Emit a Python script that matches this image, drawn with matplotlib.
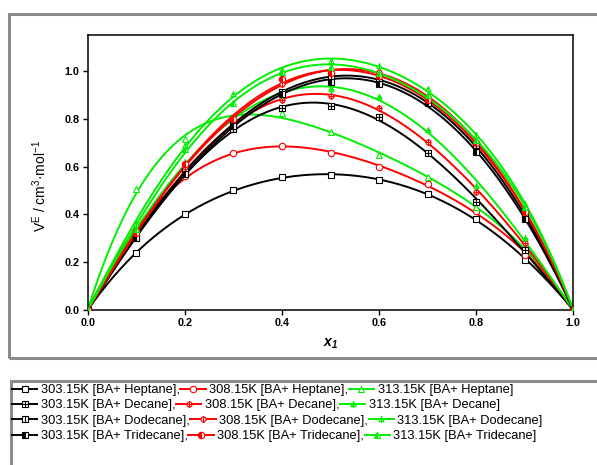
import numpy as np
import matplotlib
matplotlib.use("Agg")
import matplotlib.pyplot as plt
from matplotlib.path import Path
from matplotlib.patches import Rectangle
from matplotlib.lines import Line2D

plt.rcParams['font.family'] = ['Liberation Sans', 'DejaVu Sans']
plt.rcParams['mathtext.default'] = 'regular'

# ---------------- data ----------------
x1 = [0.0, 0.1, 0.2, 0.3, 0.4, 0.5, 0.6, 0.7, 0.8, 0.9, 1.0]

hep_303 = [0, 0.237, 0.400, 0.500, 0.555, 0.563, 0.543, 0.487, 0.380, 0.210, 0]
hep_308 = [0, 0.330, 0.560, 0.655, 0.686, 0.655, 0.598, 0.526, 0.414, 0.230, 0]
hep_313 = [0, 0.505, 0.715, 0.800, 0.825, 0.745, 0.649, 0.557, 0.430, 0.260, 0]

dec_303 = [0, 0.300, 0.570, 0.755, 0.843, 0.852, 0.808, 0.658, 0.452, 0.250, 0]
dec_308 = [0, 0.310, 0.580, 0.780, 0.877, 0.895, 0.843, 0.703, 0.494, 0.280, 0]
dec_313 = [0, 0.330, 0.620, 0.800, 0.900, 0.926, 0.891, 0.752, 0.519, 0.303, 0]

dod_303 = [0, 0.310, 0.580, 0.780, 0.910, 0.980, 0.954, 0.870, 0.690, 0.390, 0]
dod_308 = [0, 0.330, 0.600, 0.800, 0.947, 0.998, 0.996, 0.891, 0.703, 0.420, 0]
dod_313 = [0, 0.360, 0.690, 0.905, 1.003, 1.040, 1.020, 0.926, 0.731, 0.442, 0]

tri_303 = [0, 0.300, 0.570, 0.770, 0.905, 0.955, 0.947, 0.864, 0.661, 0.380, 0]
tri_308 = [0, 0.320, 0.610, 0.800, 0.968, 0.990, 0.980, 0.880, 0.700, 0.410, 0]
tri_313 = [0, 0.340, 0.675, 0.864, 0.996, 1.015, 0.989, 0.898, 0.710, 0.430, 0]

temps = ['303.15K', '308.15K', '313.15K']
solvents = ['Heptane', 'Decane', 'Dodecane', 'Tridecane']

series = {
    ('Heptane', 0): hep_303, ('Heptane', 1): hep_308, ('Heptane', 2): hep_313,
    ('Decane', 0): dec_303, ('Decane', 1): dec_308, ('Decane', 2): dec_313,
    ('Dodecane', 0): dod_303, ('Dodecane', 1): dod_308, ('Dodecane', 2): dod_313,
    ('Tridecane', 0): tri_303, ('Tridecane', 1): tri_308, ('Tridecane', 2): tri_313,
}

colors = ['black', '#ff0000', '#00ee00']

# ---------------- markers ----------------
MO, LT, CL = Path.MOVETO, Path.LINETO, Path.CLOSEPOLY
def shape_verts(kind):
    if kind == 0:
        return [(-1, -1), (1, -1), (1, 1), (-1, 1), (-1, -1)]
    if kind == 1:
        t = np.linspace(0, 2 * np.pi, 33)
        return list(zip(np.cos(t), np.sin(t)))
    return [(-1, -0.85), (1, -0.85), (0, 1.0), (-1, -0.85)]

def make_marker(kind, deco):
    v = shape_verts(kind)
    verts = list(v)
    codes = [MO] + [LT] * (len(v) - 2) + [CL]
    if deco in ('plus', 'bar'):
        verts += [(0, -1.25), (0, 1.25)]
        codes += [MO, LT]
    if deco == 'plus':
        yh = 0.0 if kind != 2 else -0.15
        verts += [(-1, yh), (1, yh)]
        codes += [MO, LT]
    return Path(verts, codes)

std_markers = ['s', 'o', '^']

def marker_style(solvent, ti):
    c = colors[ti]
    if solvent == 'Heptane':
        return dict(marker=std_markers[ti], mfc='white', mec=c)
    if solvent == 'Decane':
        return dict(marker=make_marker(ti, 'plus'), mfc='white', mec=c)
    if solvent == 'Dodecane':
        return dict(marker=make_marker(ti, 'bar'), mfc='white', mec=c)
    return dict(marker=std_markers[ti], mfc=c, mec=c, fillstyle='left',
                markerfacecoloralt='white')

# ---------------- figure ----------------
W, H = 597, 465
fig = plt.figure(figsize=(W / 100, H / 100), dpi=100)
ax = fig.add_axes([87.7 / W, 1 - 310 / H, (573.3 - 87.7) / W, (310 - 35) / H])

xs = np.array(x1)
xf = np.linspace(0, 1, 300)
for solvent in solvents:
    for ti in range(3):
        ys = np.array(series[(solvent, ti)])
        # Redlich-Kister fit
        z = 2 * xs - 1
        A = np.column_stack([xs * (1 - xs) * z ** k for k in range(4)])
        coef, *_ = np.linalg.lstsq(A, ys, rcond=None)
        zf = 2 * xf - 1
        yf = sum(coef[k] * xf * (1 - xf) * zf ** k for k in range(4))
        ax.plot(xf, yf, color=colors[ti], lw=1.4, zorder=2)
        ms = marker_style(solvent, ti)
        ax.plot(xs, ys, ls='none', ms=4.6, mew=0.8, zorder=3, **ms)

ax.set_xlim(0, 1.0)
ax.set_ylim(0, 1.15)
ax.set_xticks(np.arange(0, 1.01, 0.2))
ax.set_yticks(np.arange(0, 1.01, 0.2))
ax.xaxis.set_major_formatter(matplotlib.ticker.FormatStrFormatter('%.1f'))
ax.yaxis.set_major_formatter(matplotlib.ticker.FormatStrFormatter('%.1f'))
ax.tick_params(direction='out', length=3.5, width=1, labelsize=7.8, pad=2.5)
for lab in ax.get_xticklabels() + ax.get_yticklabels():
    lab.set_fontweight('bold')
for s in ax.spines.values():
    s.set_linewidth(1.1)
ax.set_ylabel('V$^{E}$ / cm$^{3}$·mol$^{-1}$', fontsize=10)
ax.yaxis.set_label_coords(-0.079, 0.45)
ax.set_xlabel('x$_1$', fontsize=10, fontweight='bold', style='italic', labelpad=6)

# frames
fig.add_artist(Rectangle((9.3 / W, 1 - 358 / H), (W + 10) / W, (358 - 14) / H,
                         transform=fig.transFigure, fill=False, ec='#8c8c8c', lw=2.2))
fig.add_artist(Rectangle((11 / W, -0.05), (W + 10) / W, 0.05 + 1 - 381 / H,
                         transform=fig.transFigure, fill=False, ec='#8c8c8c', lw=2.2))

# legend rows
row_y = [390, 405.3, 420.6, 436]
for ri, solvent in enumerate(solvents):
    handles, labels = [], []
    for ti in range(3):
        ms = marker_style(solvent, ti)
        handles.append(Line2D([], [], color=colors[ti], lw=1.4, ms=4.6, mew=0.8, **ms))
        lab = f'{temps[ti]} [BA+ {solvent}]' + (',' if ti < 2 else '')
        labels.append(lab)
    fig.legend(handles, labels, ncol=3, loc='center left',
               bbox_to_anchor=(12 / W, 1 - row_y[ri] / H), frameon=False,
               borderpad=0, borderaxespad=0, handlelength=1.95,
               handletextpad=0.28, columnspacing=0.05, fontsize=9.3,
               numpoints=1)

fig.savefig('out.png', dpi=100)
